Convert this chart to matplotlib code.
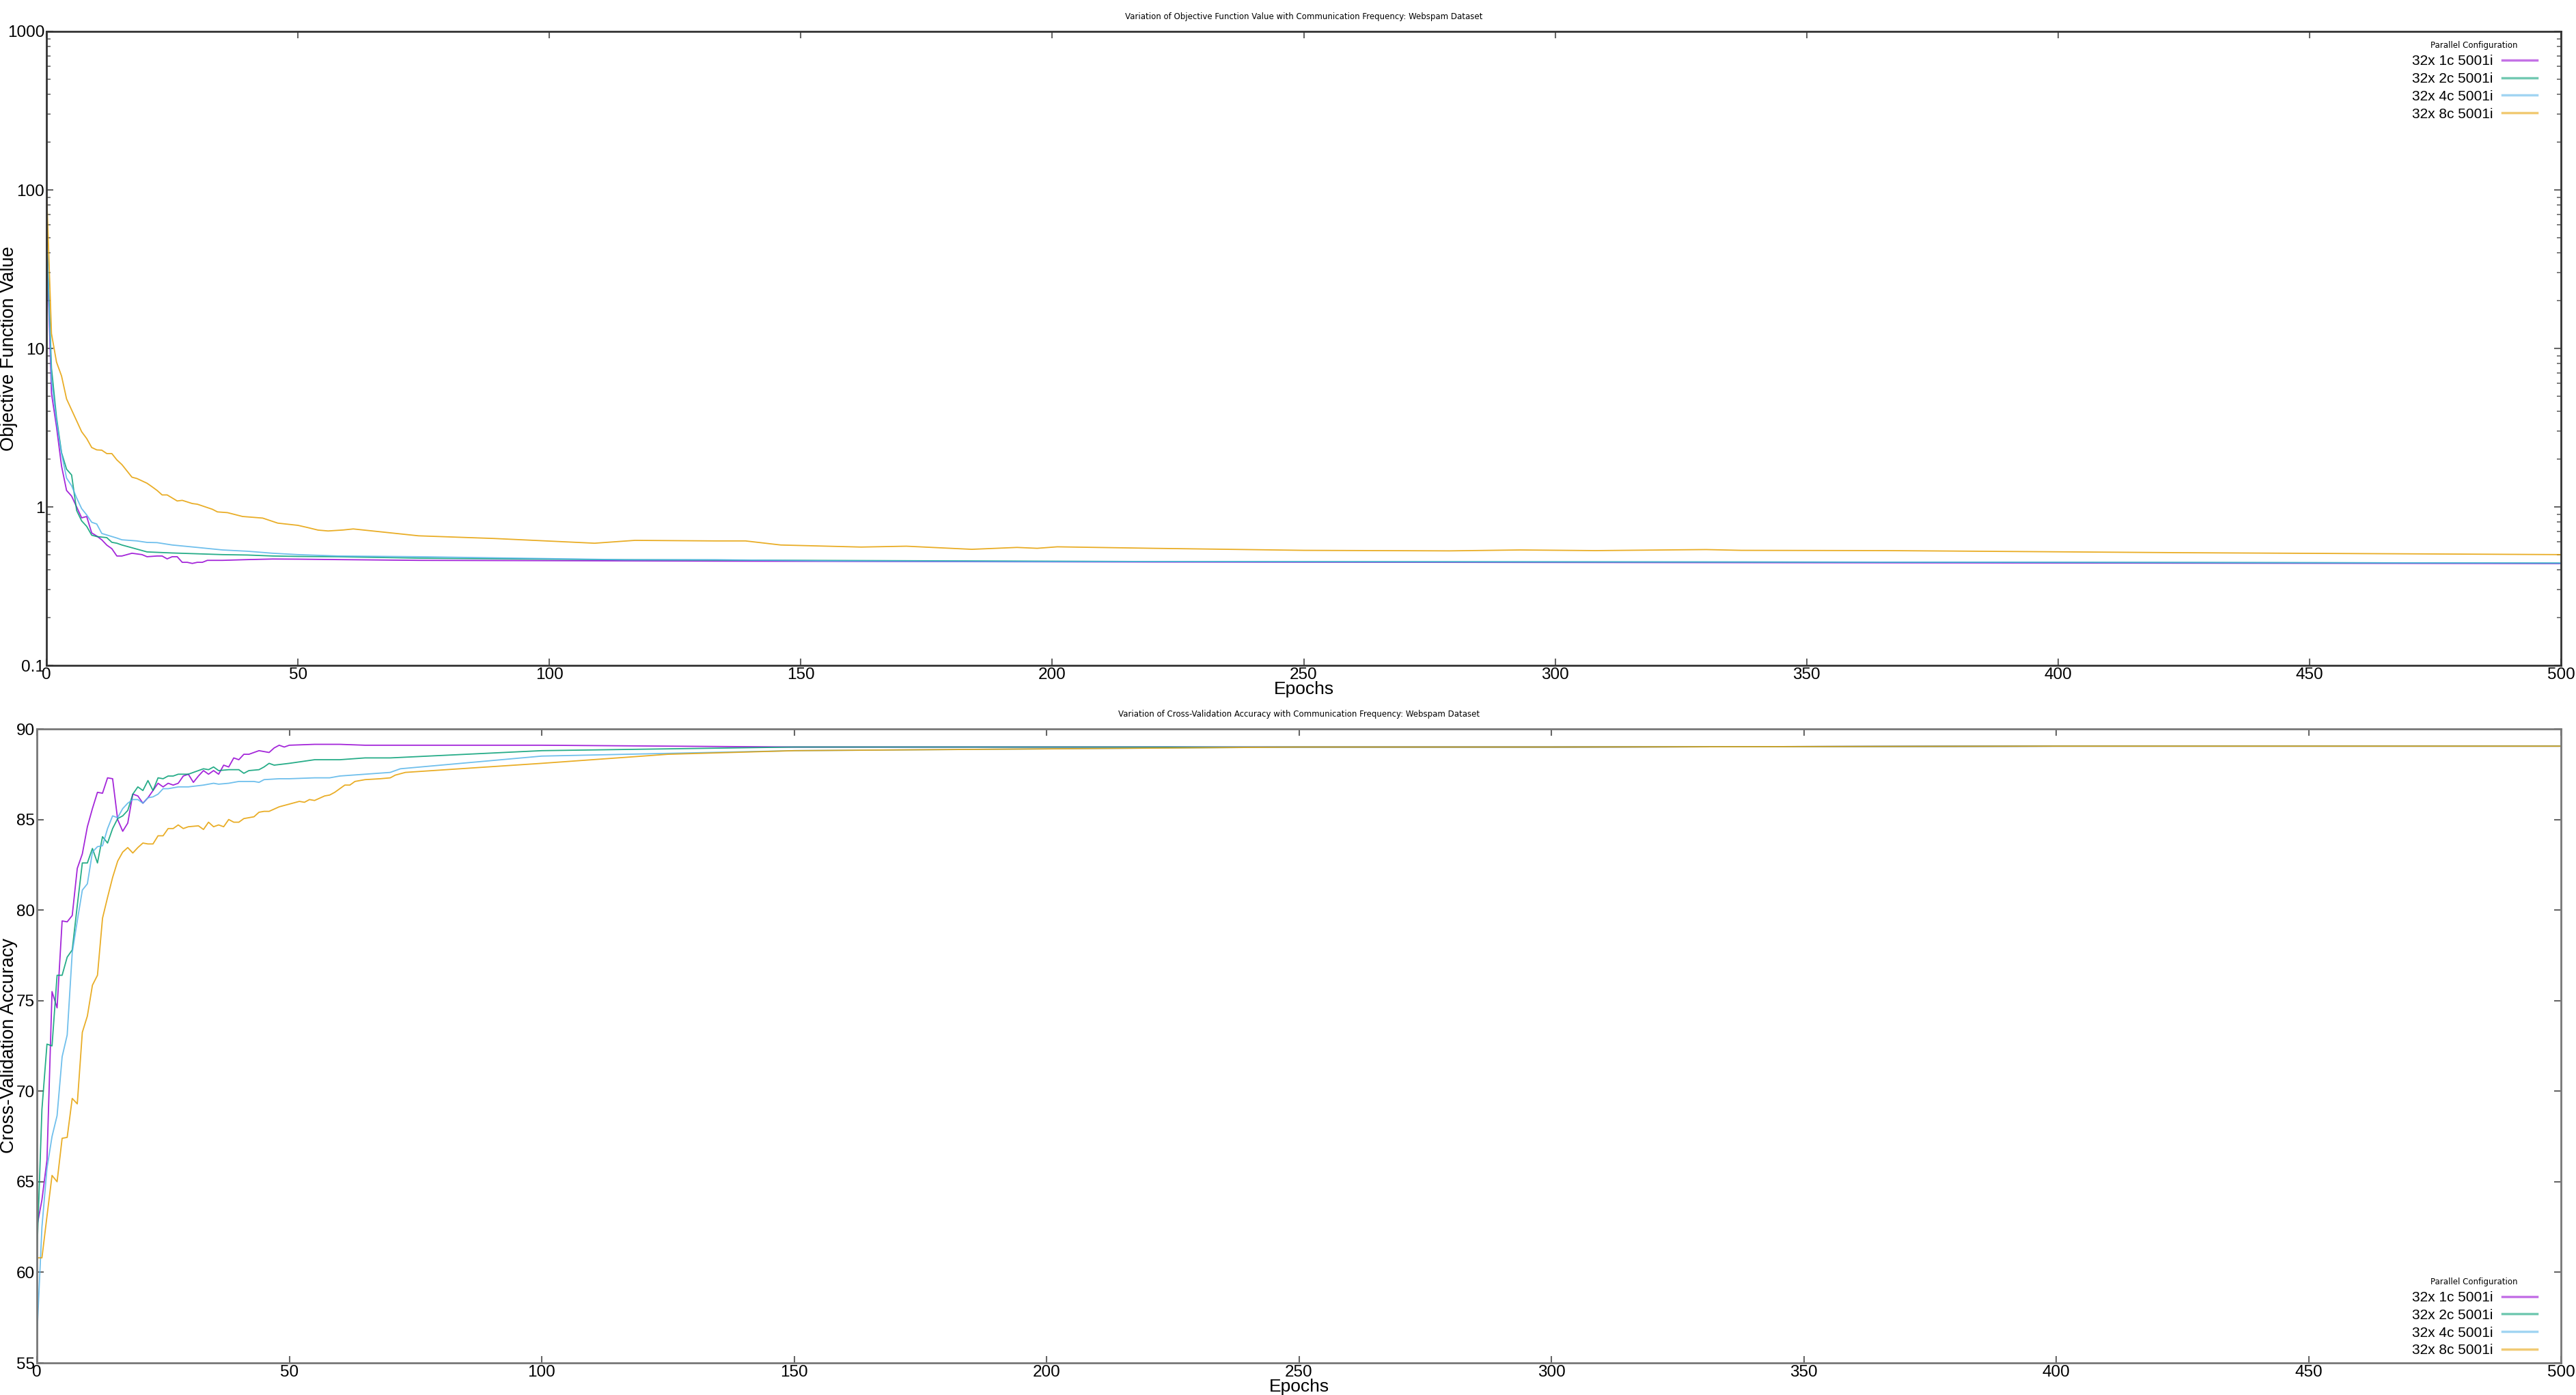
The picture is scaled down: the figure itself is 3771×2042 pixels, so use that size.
import numpy as np
import matplotlib
matplotlib.use("Agg")
import matplotlib.pyplot as plt
from matplotlib.ticker import FixedLocator, FixedFormatter, LogLocator, NullFormatter

plt.rcParams['font.family'] = ['Liberation Sans', 'DejaVu Sans']

labels = ["32x 1c 5001i", "32x 2c 5001i", "32x 4c 5001i", "32x 8c 5001i"]
colors = ["#9400D3", "#009E73", "#56B4E9", "#E69F00"]

# Objective function value (log scale)
obj_x_1c = [0, 1, 2, 3, 4, 5, 6, 7, 8, 9, 10, 11, 12, 13, 14, 15, 17, 19, 20, 22, 23, 24, 25, 26, 27, 28, 29,
            30, 31, 32, 35, 40, 45, 50, 58, 74, 100, 133, 220, 337, 420, 500]
obj_y_1c = [55, 5.2, 3.2, 1.81, 1.27, 1.17, 1.0, 0.853, 0.87, 0.685, 0.655, 0.62, 0.574, 0.545, 0.49, 0.49, 0.51,
            0.5, 0.485, 0.49, 0.49, 0.47, 0.485, 0.485, 0.447, 0.447, 0.44, 0.447, 0.447, 0.46, 0.46, 0.465,
            0.469, 0.468, 0.465, 0.46, 0.458, 0.455, 0.449, 0.445, 0.442, 0.439]

obj_x_2c = [0, 1, 2, 3, 4, 5, 6, 7, 8, 9, 10, 12, 13, 14, 15, 20, 25, 30, 35, 40, 45, 50, 58, 74, 115,
            220, 337, 420, 500]
obj_y_2c = [55, 7.5, 3.67, 2.2, 1.73, 1.59, 0.95, 0.816, 0.754, 0.663, 0.65, 0.64, 0.598, 0.59, 0.575, 0.52,
            0.512, 0.506, 0.5, 0.497, 0.49, 0.487, 0.485, 0.475, 0.464, 0.452, 0.449, 0.446, 0.442]

obj_x_4c = [0, 1, 2, 3, 4, 5, 6, 7, 8, 9, 10, 11, 12, 14, 15, 18, 20, 22, 25, 30, 35, 40, 45, 50, 58, 74,
            115, 133, 156, 200, 337, 420, 500]
obj_y_4c = [60, 6.3, 3.5, 2.17, 1.52, 1.36, 1.14, 0.975, 0.89, 0.8, 0.78, 0.68, 0.665, 0.636, 0.62, 0.61,
            0.597, 0.595, 0.575, 0.555, 0.535, 0.525, 0.51, 0.5, 0.49, 0.485, 0.464, 0.464, 0.456, 0.452,
            0.449, 0.446, 0.442]

obj_x_8c = [0, 1, 2, 3, 4, 7, 8, 9, 10, 11, 12, 13, 14, 15, 17, 18, 20, 21, 22, 23, 24, 26, 27, 29, 30, 33,
            34, 36, 39, 41, 43, 46, 50, 52, 54, 56, 59, 61, 74, 89, 109, 117, 133, 139, 146, 162, 171, 184,
            193, 197, 201, 220, 250, 279, 293, 308, 330, 337, 366, 425, 500]
obj_y_8c = [105, 12.4, 8.2, 6.7, 4.8, 2.98, 2.7, 2.37, 2.29, 2.28, 2.17, 2.17, 1.98, 1.85, 1.54, 1.51, 1.41,
            1.34, 1.27, 1.19, 1.19, 1.09, 1.1, 1.05, 1.04, 0.966, 0.93, 0.92, 0.87, 0.86, 0.85, 0.79, 0.765,
            0.74, 0.714, 0.705, 0.715, 0.726, 0.657, 0.632, 0.59, 0.615, 0.61, 0.61, 0.575, 0.558, 0.565,
            0.54, 0.555, 0.548, 0.56, 0.548, 0.532, 0.528, 0.535, 0.53, 0.538, 0.532, 0.53, 0.514, 0.50]

# Cross-validation accuracy
acc_x_1c = list(range(0, 51)) + [55, 60, 65, 70, 100, 150, 200, 300, 400, 500]
acc_y_1c = [62.5, 64.0, 66.2, 75.5, 74.6, 79.4, 79.35, 79.7, 82.3, 83.1, 84.6, 85.6, 86.5, 86.45, 87.3, 87.25,
            85.0, 84.35, 84.8, 86.4, 86.3, 85.9, 86.2, 86.6, 87.0, 86.8, 87.0, 86.9, 87.0, 87.4, 87.5, 87.05,
            87.4, 87.7, 87.5, 87.7, 87.5, 88.0, 87.9, 88.4, 88.3, 88.6, 88.6, 88.7, 88.8, 88.75, 88.7, 88.95,
            89.1, 89.0, 89.1, 89.15, 89.15, 89.1, 89.1, 89.1, 89.0, 89.0, 89.0, 89.05, 89.05]

acc_x_2c = list(range(0, 29)) + [30, 32, 33, 34, 35, 36, 38, 40, 41, 42, 44, 45, 46, 47, 50, 55, 60, 65, 70,
                                 100, 150, 200, 300, 400, 500]
acc_y_2c = [60.9, 69.0, 72.6, 72.5, 76.4, 76.4, 77.4, 77.8, 80.25, 82.6, 82.6, 83.4, 82.6, 84.05, 83.7, 84.5,
            85.05, 85.2, 85.5, 86.4, 86.8, 86.6, 87.15, 86.6, 87.3, 87.25, 87.4, 87.4, 87.5, 87.5, 87.7, 87.8,
            87.75, 87.9, 87.7, 87.75, 87.75, 87.55, 87.7, 87.75, 87.9, 88.1, 88.0, 88.1, 88.3, 88.3, 88.4,
            88.4, 88.8, 89.0, 89.0, 89.0, 89.05, 89.05]

acc_x_4c = list(range(0, 26)) + [26, 28, 30, 33, 35, 36, 38, 40, 43, 44, 45, 48, 50, 55, 58, 60, 65, 70, 72,
                                 100, 150, 200, 250, 300, 400, 500]
acc_y_4c = [56.4, 62.5, 65.75, 67.5, 68.65, 71.9, 73.1, 77.65, 79.4, 81.1, 81.45, 83.2, 83.5, 83.55, 84.5,
            85.2, 85.1, 85.6, 85.9, 86.1, 86.1, 85.9, 86.2, 86.25, 86.4, 86.7, 86.7, 86.8, 86.8, 86.9, 87.0,
            86.95, 87.0, 87.1, 87.1, 87.05, 87.2, 87.25, 87.25, 87.3, 87.3, 87.4, 87.5, 87.6, 87.8, 88.5,
            88.8, 88.9, 89.0, 89.0, 89.05, 89.05]

acc_x_8c = list(range(0, 31)) + [32, 33, 34, 35, 36, 37, 38, 39, 40, 41, 43, 44, 45, 46, 48, 50, 52, 53, 54,
                                 55, 57, 58, 59, 60, 61, 62, 63, 65, 68, 70, 71, 73, 100, 125, 150, 200,
                                 250, 300, 400, 500]
acc_y_8c = [60.8, 60.8, 63.1, 65.35, 65.0, 67.4, 67.45, 69.6, 69.3, 73.25, 74.15, 75.85, 76.4, 79.55, 80.7,
            81.8, 82.7, 83.2, 83.45, 83.15, 83.45, 83.7, 83.65, 83.65, 84.1, 84.1, 84.5, 84.5, 84.7, 84.5,
            84.6, 84.65, 84.45, 84.85, 84.6, 84.7, 84.6, 85.0, 84.85, 84.85, 85.05, 85.15, 85.4, 85.45, 85.45,
            85.7, 85.85, 86.0, 85.95, 86.1, 86.05, 86.3, 86.35, 86.5, 86.7, 86.9, 86.9, 87.1, 87.2, 87.25,
            87.3, 87.45, 87.6, 88.1, 88.6, 88.8, 88.9, 89.0, 89.0, 89.05, 89.05]

obj_x = [obj_x_1c, obj_x_2c, obj_x_4c, obj_x_8c]
obj_y = [obj_y_1c, obj_y_2c, obj_y_4c, obj_y_8c]
acc_x = [acc_x_1c, acc_x_2c, acc_x_4c, acc_x_8c]
acc_y = [acc_y_1c, acc_y_2c, acc_y_4c, acc_y_8c]

W, H = 3771, 2042
fig = plt.figure(figsize=(W / 100, H / 100), dpi=100)
ax1 = fig.add_axes([68 / W, 1 - 974 / H, (3749 - 68) / W, (974 - 46) / H])
ax2 = fig.add_axes([54 / W, 1 - 1995 / H, (3749 - 54) / W, (1995 - 1067) / H])

for i in range(4):
    ax1.plot(obj_x[i], obj_y[i], color=colors[i], lw=1.3, alpha=0.85, label=labels[i])
    ax2.plot(acc_x[i], acc_y[i], color=colors[i], lw=1.3, alpha=0.85, label=labels[i])

# top panel
ax1.set_yscale('log')
ax1.set_xlim(0, 500)
ax1.set_ylim(0.1, 1000)
ax1.yaxis.set_major_locator(FixedLocator([0.1, 1, 10, 100, 1000]))
ax1.yaxis.set_major_formatter(FixedFormatter(['0.1', '1', '10', '100', '1000']))
ax1.yaxis.set_minor_locator(LogLocator(base=10, subs=np.arange(2, 10)))
ax1.yaxis.set_minor_formatter(NullFormatter())
ax1.set_title("Variation of Objective Function Value with Communication Frequency: Webspam Dataset",
              fontsize=8.5, family='DejaVu Sans', pad=13)
ax1.set_ylabel("Objective Function Value", fontsize=19.5)
ax1.yaxis.set_label_coords(-0.0115, 0.5)
for s in ax1.spines.values():
    s.set_color('#333333')
    s.set_linewidth(2)

# bottom panel
ax2.set_xlim(0, 500)
ax2.set_ylim(55, 90)
ax2.set_yticks(np.arange(55, 91, 5))
ax2.set_title("Variation of Cross-Validation Accuracy with Communication Frequency: Webspam Dataset",
              fontsize=8.5, family='DejaVu Sans', pad=13)
ax2.set_ylabel("Cross-Validation Accuracy", fontsize=19.5)
ax2.yaxis.set_label_coords(-0.0077, 0.5)
for s in ax2.spines.values():
    s.set_color('#777777')
    s.set_linewidth(2)

for ax in (ax1, ax2):
    ax.set_xticks(np.arange(0, 501, 50))
    ax.set_xlabel("Epochs", fontsize=19, labelpad=-1)
    ax.tick_params(which='both', direction='in', top=True, right=True, labelsize=17.5, pad=2)
    ax.tick_params(which='major', length=7, width=1.5, color='#666666')
    ax.tick_params(which='minor', length=4, width=1.2, color='#666666')

leg_kw = dict(frameon=False, markerfirst=False, fontsize=15, handlelength=2.45, handletextpad=0.65,
              labelspacing=0.33, title="Parallel Configuration",
              title_fontproperties={'family': 'DejaVu Sans', 'size': 8.5})
leg1 = ax1.legend(loc='upper right', bbox_to_anchor=(0.9955, 1.005), **leg_kw)
leg2 = ax2.legend(loc='lower right', bbox_to_anchor=(0.9955, -0.011), **leg_kw)
for leg in (leg1, leg2):
    for h in leg.legend_handles:
        h.set_linewidth(2.5)
        h.set_alpha(0.55)

fig.savefig("out.png", dpi=100)
